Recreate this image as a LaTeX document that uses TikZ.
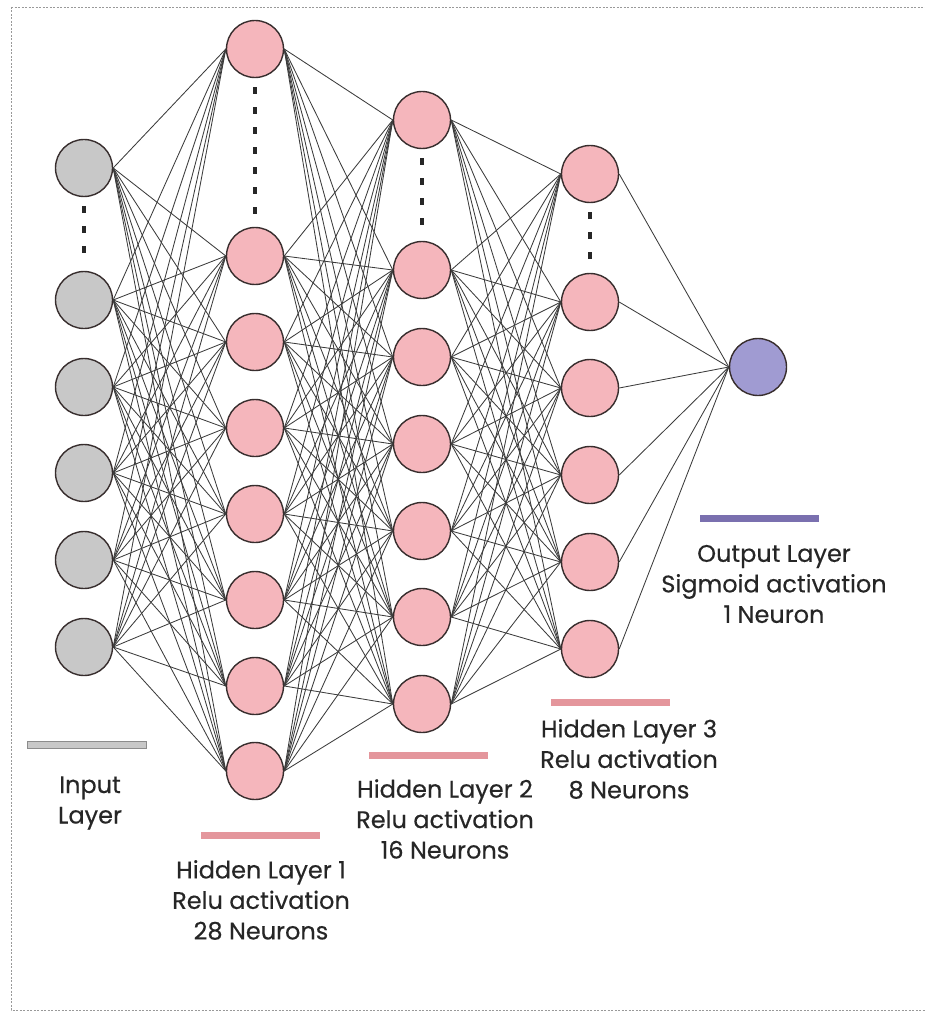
\documentclass[tikz,border=0pt]{standalone}
\usepackage{fontspec}
\setmainfont{Poppins}
\newfontfamily\lblfont{Poppins}[FakeBold=0.35]
\definecolor{pinkfill}{RGB}{245,182,188}
\definecolor{grayfill}{RGB}{200,200,200}
\definecolor{purplefill}{RGB}{160,155,210}
\definecolor{nodeline}{RGB}{55,45,45}
\definecolor{edgecol}{RGB}{60,60,60}
\definecolor{pinkbar}{RGB}{228,150,156}
\definecolor{graybar}{RGB}{200,200,200}
\definecolor{purplebar}{RGB}{122,112,175}
\definecolor{txt}{RGB}{38,38,38}
\begin{document}
\begin{tikzpicture}[x=1pt,y=-1pt,
  neuron/.style={circle,draw=nodeline,line width=1.4pt,minimum size=57pt,inner sep=0pt},
  inp/.style={neuron,fill=grayfill},
  hid/.style={neuron,fill=pinkfill},
  outn/.style={neuron,fill=purplefill},
  edge/.style={draw=edgecol,line width=0.85pt},
  dotline/.style={draw=black!85,line width=3.2pt,dash pattern=on 7pt off 13pt,shorten <=9pt,shorten >=8pt},
  bar/.style={inner sep=0pt,minimum height=7pt,minimum width=119pt},
  lbl/.style={text=txt,align=center,font=\lblfont\fontsize{24}{30.5}\selectfont},
  border/.style={draw=black!40,line width=0.9pt,dash pattern=on 2pt off 1.5pt}]
\useasboundingbox (0,0) rectangle (924,1016);
\draw[border] (11,7) -- (940,7);
\draw[border] (11,7) -- (11,1010) -- (940,1010);
% nodes
\foreach \y [count=\k] in {168,300,387,473,560,647}
  \node[inp] (i\k) at (84,\y) {};
\foreach \y [count=\k] in {49,256,342,428,514,600,686,771}
  \node[hid] (a\k) at (255,\y) {};
\foreach \y [count=\k] in {120,270,357,444,531,617,704}
  \node[hid] (b\k) at (422,\y) {};
\foreach \y [count=\k] in {174,302,388,475,562,649}
  \node[hid] (c\k) at (590,\y) {};
\node[outn] (o) at (758,367) {};
% edges
\foreach \i in {1,...,6}
  \foreach \j in {1,...,8}
    \draw[edge] (i\i.east) -- (a\j.west);
\foreach \i in {1,...,8}
  \foreach \j in {1,...,7}
    \draw[edge] (a\i.east) -- (b\j.west);
\foreach \i in {1,...,7}
  \foreach \j in {1,...,6}
    \draw[edge] (b\i.east) -- (c\j.west);
\foreach \i in {1,...,6}
  \draw[edge] (c\i.east) -- (o.west);
% dotted gaps
\draw[dotline] (i1.south) -- (i2.north);
\draw[dotline] (a1.south) -- (a2.north);
\draw[dotline] (b1.south) -- (b2.north);
\draw[dotline] (c1.south) -- (c2.north);
% bars
\node[bar,fill=graybar,draw=black!45,line width=0.8pt] (barin) at (87,745) {};
\node[bar,fill=pinkbar] (bar1) at (260,835) {};
\node[bar,fill=pinkbar] (bar2) at (428,755) {};
\node[bar,fill=pinkbar] (bar3) at (610,702) {};
\node[bar,fill=purplebar] (barout) at (759,518) {};
% labels
\node[lbl] (lin) at (90,803) {Input\\Layer};
\node[lbl] (l1) at (261,900) {Hidden Layer 1\\Relu activation\\28 Neurons};
\node[lbl] (l2) at (445,819) {Hidden Layer 2\\Relu activation\\16 Neurons};
\node[lbl] (l3) at (629,759) {Hidden Layer 3\\Relu activation\\8 Neurons};
\node[lbl] (lo) at (774,584) {Output Layer\\Sigmoid activation\\1 Neuron};
\end{tikzpicture}
\end{document}
